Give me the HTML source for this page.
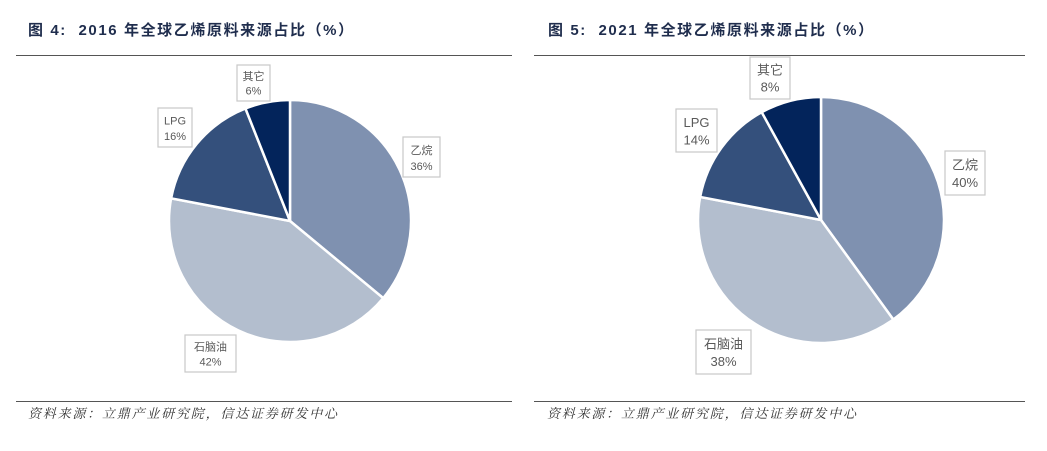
<!DOCTYPE html>
<html><head><meta charset="utf-8">
<style>
body{margin:0;background:#fff;width:1047px;height:451px;overflow:hidden;font-family:"Liberation Sans","Noto Sans CJK SC",sans-serif}
.t{position:absolute;top:19px;font-weight:bold;font-size:15px;letter-spacing:1.6px;color:#1f2d4d}
.rule{position:absolute;height:1px;background:#555}
.src{position:absolute;top:403px;font-size:13px;letter-spacing:1.8px;font-style:italic;color:#333;font-family:"Liberation Serif","Noto Serif CJK SC",serif}
svg{position:absolute;left:0;top:0}
</style></head><body>
<div class="t" style="left:28px">图 4:&nbsp; 2016 年全球乙烯原料来源占比（%）</div>
<div class="t" style="left:548px">图 5:&nbsp; 2021 年全球乙烯原料来源占比（%）</div>
<div class="rule" style="left:16px;top:55px;width:496px"></div>
<div class="rule" style="left:534px;top:55px;width:491px"></div>
<div class="rule" style="left:16px;top:401px;width:496px"></div>
<div class="rule" style="left:534px;top:401px;width:491px"></div>
<div class="src" style="left:28px">资料来源：立鼎产业研究院，信达证券研发中心</div>
<div class="src" style="left:547px">资料来源：立鼎产业研究院，信达证券研发中心</div>
<svg id="svg" width="1047" height="451"></svg>
<script>
const categories=["乙烷","石脑油","LPG","其它"];
const values2016=[36,42,16,6];
const values2021=[40,38,14,8];
const colors=["#7f91b0","#b3bece","#34507c","#03245b"];
const NS="http://www.w3.org/2000/svg";
const svg=document.getElementById('svg');
function mk(tag,attrs){const e=document.createElementNS(NS,tag);for(const k in attrs)e.setAttribute(k,attrs[k]);svg.appendChild(e);return e;}
function pie(cx,cy,r,vals,labelBoxes,fs,tag){
  const tot=vals.reduce((a,b)=>a+b,0);let a0=0;
  vals.forEach((v,i)=>{
    const a1=a0+v/tot*2*Math.PI;
    const p=(a)=>[cx+r*Math.sin(a),cy-r*Math.cos(a)];
    const [x0,y0]=p(a0),[x1,y1]=p(a1);
    const large=(a1-a0)>Math.PI?1:0;
    const s=mk('path',{d:`M${cx},${cy}L${x0},${y0}A${r},${r} 0 ${large} 1 ${x1},${y1}Z`,fill:colors[i],stroke:'#fff','stroke-width':2.5});
    
    
    const b=labelBoxes[i];
    const rc=mk('rect',{x:b[0],y:b[1],width:b[2],height:b[3],fill:'#fff',stroke:'#c8c8c8','stroke-width':1.2});
    
    
    const t1=mk('text',{x:b[0]+b[2]/2,y:b[1]+b[3]*0.42,'text-anchor':'middle','font-size':fs,fill:'#595959'});
    t1.textContent=categories[i];
    
    
    const t2=mk('text',{x:b[0]+b[2]/2,y:b[1]+b[3]*0.82,'text-anchor':'middle','font-size':fs,fill:'#595959'});
    t2.textContent=v+'%';
    
    
    a0=a1;
  });
}
pie(290,221,121,values2016,[[403,137,37,40],[185,335,51,37],[158,108,34,39],[237,65,33,36]],11,'2016');
pie(821,220,123,values2021,[[945,151,40,44],[696,330,55,44],[676,109,41,43],[750,57,40,42]],13,'2021');
</script>
</body></html>
